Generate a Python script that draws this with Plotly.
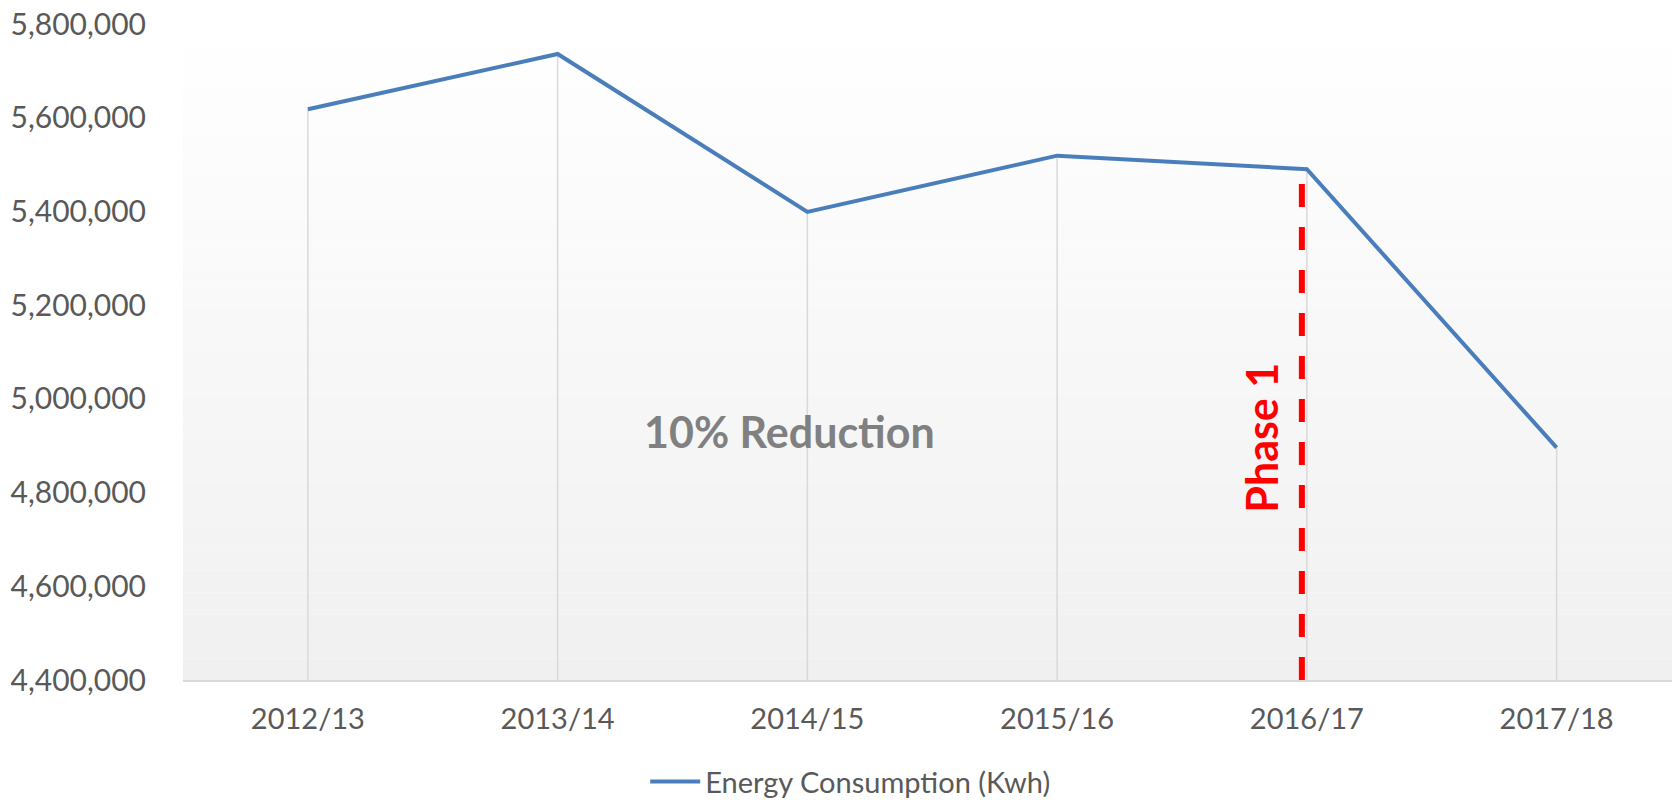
import plotly.graph_objects as go

# ---- data ----
years = ["2012/13", "2013/14", "2014/15", "2015/16", "2016/17", "2017/18"]
energy_kwh = [5618000, 5736000, 5399000, 5519000, 5490000, 4896000]
y_ticks = [4400000, 4600000, 4800000, 5000000, 5200000, 5400000, 5600000, 5800000]
y_tick_labels = ["4,400,000", "4,600,000", "4,800,000", "5,000,000",
                 "5,200,000", "5,400,000", "5,600,000", "5,800,000"]
series_name = "Energy Consumption (Kwh)"
reduction_label = "10% Reduction"
phase_label = "Phase 1"
phase_index = years.index("2016/17")
phase_top = 5471000

y_min, y_max = y_ticks[0], y_ticks[-1]

FONT = "Lato"
TICK_COLOR = "#595959"

fig = go.Figure()

# drop lines from each point down to the axis
drop_x, drop_y = [], []
for cat, v in zip(years, energy_kwh):
    drop_x += [cat, cat, None]
    drop_y += [v, y_min, None]
fig.add_trace(go.Scatter(x=drop_x, y=drop_y, mode="lines",
                         line=dict(color="#d9d9d9", width=1.5),
                         hoverinfo="skip", showlegend=False))

fig.add_trace(go.Scatter(x=years, y=energy_kwh, mode="lines", name=series_name,
                         line=dict(color="#4a7ebb", width=4)))

# gradient plot-area background (white at top -> light grey at bottom)
n_bands = 30
shapes = []
for i in range(n_bands):
    t = i / (n_bands - 1)
    c = int(round(255 - t * (255 - 240)))
    shapes.append(dict(type="rect", xref="x domain", yref="y domain",
                       x0=0, x1=1, y0=1 - (i + 1) / n_bands, y1=1 - i / n_bands,
                       fillcolor=f"rgb({c},{c},{c})", line=dict(width=0),
                       layer="below"))

# Phase 1 dashed marker line
shapes.append(dict(type="line", xref="x", yref="y",
                   x0=phase_index - 0.02, x1=phase_index - 0.02,
                   y0=y_min, y1=phase_top,
                   line=dict(color="#ff0000", width=6, dash="23px,20px"),
                   layer="above"))

annotations = [
    dict(x=1.93, y=4930000, xref="x", yref="y", text=f"<b>{reduction_label}</b>",
         showarrow=False, font=dict(family=FONT, size=43, color="#808080")),
    dict(x=phase_index - 0.18, y=4917000, xref="x", yref="y", text=f"<b>{phase_label}</b>",
         showarrow=False, textangle=-90,
         font=dict(family=FONT, size=43, color="#ff0000")),
]

fig.update_layout(
    width=1672, height=800,
    margin=dict(l=183, r=0, t=24, b=120, autoexpand=False),
    paper_bgcolor="white", plot_bgcolor="white",
    font=dict(family=FONT, color=TICK_COLOR, size=29),
    shapes=shapes, annotations=annotations,
    showlegend=True,
    legend=dict(orientation="h", x=0.3104, xanchor="left", y=-0.155, yanchor="middle",
                itemwidth=50,
                font=dict(family=FONT, size=29, color=TICK_COLOR),
                bgcolor="rgba(0,0,0,0)"),
    hovermode=False,
)
fig.update_xaxes(type="category", range=[-0.5, 5.462], showgrid=False,
                 showline=True, linecolor="#d9d9d9", linewidth=2,
                 ticks="", ticklabelstandoff=12, zeroline=False, automargin=False,
                 tickfont=dict(family=FONT, size=29, color=TICK_COLOR))
fig.update_yaxes(range=[y_min, y_max], tickvals=y_ticks, ticktext=y_tick_labels,
                 showgrid=False, showline=False, zeroline=False, ticks="",
                 ticklabelstandoff=36, automargin=False,
                 tickfont=dict(family=FONT, size=30, color=TICK_COLOR))

fig.write_html("out.html",
               config={"displayModeBar": False},
               post_script="document.body.style.margin='0';document.body.style.overflow='hidden';")
